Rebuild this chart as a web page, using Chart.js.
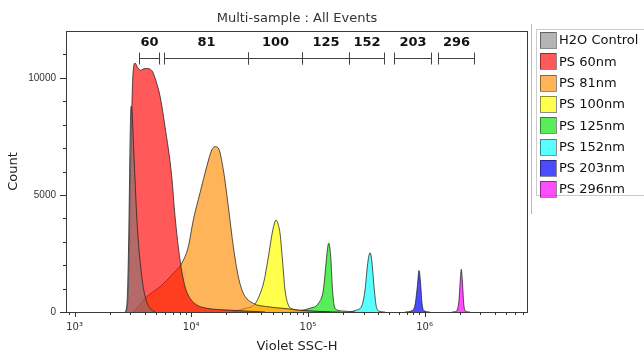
<!DOCTYPE html>
<html>
<head>
<meta charset="utf-8">
<script src="https://cdn.jsdelivr.net/npm/chart.js@4.4.1/dist/chart.umd.min.js"></script>
<style>
    html, body { margin: 0; padding: 0; background: #fff; }
    #area { width: 644px; height: 356px; }
</style>
</head>
<body>
<div id="area"><canvas id="histogramaChart" width="644" height="356"></canvas></div>
<script>
// ============================================
// HISTOGRAMA MULTI-AMOSTRA (Violet SSC-H x Count)
// ============================================

// Pontos [SSC-H, contagem] de cada amostra
const h2oControl = [[2710, 0], [2800, 230], [2890, 2220], [2950, 5090], [2990, 7220], [3050, 8780], [3090, 8700],
    [3240, 6500], [3450, 3650], [3770, 1510], [4100, 510], [4440, 160], [4900, 0]];
const ps60 = [[2760, 0], [2890, 810], [3030, 6500], [3150, 9910], [3300, 10630], [3470, 10450], [3690, 10320],
    [3890, 10380], [4140, 10400], [4440, 10370], [4680, 10250], [5060, 9770], [5400, 9230], [5960, 7920],
    [6810, 5780], [7270, 4070], [8020, 2220], [8850, 1080], [9770, 585], [11150, 300], [13580, 160],
    [20150, 85], [29900, 40], [42900, 0]];
const ps81 = [[3200, 0], [3500, 210], [4160, 650], [5400, 1080], [7020, 1650], [8290, 2080], [9440, 2790],
    [10420, 3930], [11900, 5090], [13580, 6210], [14990, 6920], [15990, 7060], [17070, 7000], [18840, 6070],
    [20800, 4500], [22950, 2790], [25330, 1510], [27960, 800], [34050, 370], [44360, 230], [63660, 150],
    [94400, 60], [154700, 0]];
const ps100 = [[22400, 0], [28900, 150], [35200, 340], [38860, 770], [42050, 1320], [45500, 2260], [49250, 3330],
    [51740, 3800], [53300, 3930], [55440, 3760], [57680, 3360], [60840, 2080], [63660, 940], [67950, 300],
    [74960, 115], [85600, 55], [127000, 20], [188400, 0]];
const ps125 = [[70250, 0], [104200, 160], [122800, 370], [135500, 940], [142100, 1940], [146700, 2650],
    [150800, 2940], [156800, 2360], [161900, 1080], [167400, 300], [178600, 85], [201100, 40], [253300, 0]];
const ps152 = [[229500, 0], [261900, 85], [289200, 260], [308600, 940], [322900, 1940], [331900, 2360],
    [340500, 2530], [352100, 2220], [368500, 1080], [383300, 300], [401100, 55], [457900, 0]];
const ps203 = [[679000, 0], [775500, 55], [827500, 300], [865900, 1080], [895400, 1770], [918900, 1370],
    [950200, 370], [988300, 55], [1112000, 0]];
const ps296 = [[1718000, 0], [1884000, 55], [1971000, 510], [2022000, 1370], [2063000, 1820], [2104000, 1370],
    [2163000, 370], [2233000, 40], [2449000, 0]];

const amostras = ['H2O Control', 'PS 60nm', 'PS 81nm', 'PS 100nm', 'PS 125nm', 'PS 152nm', 'PS 203nm', 'PS 296nm'];

// Gates de tamanho (nm) no topo do gráfico
const gateLabels = ['60', '81', '100', '125', '152', '203', '296'];
const gateInicio = [3570, 5850, 30700, 89000, 225000, 547000, 1302000];
const gateFim = [5300, 30700, 89000, 225000, 449000, 1134000, 2651000];

// Ticks dos eixos
const xTicksMaiores = [1e3, 1e4, 1e5, 1e6];
const xTickLabels = ['10³', '10⁴', '10⁵', '10⁶'];
const xTicksMenores = [900, 2000, 3000, 4000, 5000, 6000, 7000, 8000, 9000,
    20000, 30000, 40000, 50000, 60000, 70000, 80000, 90000,
    200000, 300000, 400000, 500000, 600000, 700000, 800000, 900000,
    2000000, 3000000, 4000000, 5000000, 6000000, 7000000];
const yTicksMaiores = [0, 5000, 10000];
const yTicksMenores = [1000, 2000, 3000, 4000, 6000, 7000, 8000, 9000, 11000];

// Cores (preenchimento semi-transparente)
const cores = [
    'rgba(120, 120, 120, 0.55)', // Cinza
    'rgba(255, 0, 0, 0.65)',     // Vermelho
    'rgba(255, 140, 0, 0.65)',   // Laranja
    'rgba(255, 255, 0, 0.7)',    // Amarelo
    'rgba(20, 230, 20, 0.7)',    // Verde
    'rgba(0, 255, 255, 0.65)',   // Ciano
    'rgba(0, 0, 255, 0.7)',      // Azul
    'rgba(255, 0, 255, 0.7)'     // Magenta
];

const series = [h2oControl, ps60, ps81, ps100, ps125, ps152, ps203, ps296];

// Moldura, ticks, gates, legenda e título
const decoracao = {
    id: 'decoracao',
    afterDraw(chart) {
        const { ctx, chartArea: a, scales: { x, y } } = chart;
        ctx.save();

        // Ticks do eixo Y
        ctx.strokeStyle = '#333';
        ctx.lineWidth = 1;
        ctx.beginPath();
        yTicksMaiores.concat(yTicksMenores).forEach(v => {
            const py = Math.round(y.getPixelForValue(v)) + 0.5;
            const len = yTicksMaiores.includes(v) ? 6 : 3;
            ctx.moveTo(a.left - len, py);
            ctx.lineTo(a.left, py);
        });
        // Ticks do eixo X
        xTicksMaiores.concat(xTicksMenores).forEach(v => {
            const px = Math.round(x.getPixelForValue(v)) + 0.5;
            if (px < a.left || px > a.right) return;
            const len = xTicksMaiores.includes(v) ? 5 : 3;
            ctx.moveTo(px, a.bottom);
            ctx.lineTo(px, a.bottom + len);
        });
        ctx.stroke();

        // Moldura da área do gráfico
        ctx.strokeStyle = '#3a3a3a';
        ctx.strokeRect(a.left + 0.5, a.top + 0.5, a.right - a.left - 1, a.bottom - a.top);

        // Gates
        const yBarra = a.top + 27.5;
        ctx.strokeStyle = '#444';
        ctx.fillStyle = '#111';
        ctx.font = 'bold 13px "DejaVu Sans"';
        ctx.textAlign = 'center';
        ctx.textBaseline = 'middle';
        gateLabels.forEach((label, i) => {
            const x1 = Math.round(x.getPixelForValue(gateInicio[i])) + 0.5;
            const x2 = Math.round(x.getPixelForValue(gateFim[i])) + 0.5;
            ctx.beginPath();
            ctx.moveTo(x1, yBarra);
            ctx.lineTo(x2, yBarra);
            ctx.moveTo(x1, yBarra - 6);
            ctx.lineTo(x1, yBarra + 6);
            ctx.moveTo(x2, yBarra - 6);
            ctx.lineTo(x2, yBarra + 6);
            ctx.stroke();
            ctx.fillText(label, (x1 + x2) / 2, a.top + 12);
        });

        // Título
        ctx.font = '13px "DejaVu Sans"';
        ctx.fillStyle = '#333';
        ctx.textBaseline = 'middle';
        ctx.fillText('Multi-sample : All Events', (a.left + a.right) / 2, 19);

        // Legenda
        ctx.strokeStyle = '#bbb';
        ctx.beginPath();
        ctx.moveTo(531.5, 24);
        ctx.lineTo(531.5, 214);
        ctx.stroke();
        ctx.strokeStyle = '#ccc';
        ctx.strokeRect(536.5, 29.5, 120, 166);

        ctx.textAlign = 'left';
        ctx.font = '13px "DejaVu Sans"';
        chart.data.datasets.forEach((ds, i) => {
            const cy = 40 + i * 21.3;
            ctx.fillStyle = ds.backgroundColor;
            ctx.fillRect(540, Math.round(cy - 8), 16, 16);
            ctx.strokeStyle = 'rgba(0, 0, 0, 0.45)';
            ctx.strokeRect(540.5, Math.round(cy - 8) + 0.5, 16, 16);
            ctx.fillStyle = '#111';
            ctx.fillText(ds.label, 559, cy + 1);
        });

        ctx.restore();
    }
};

const ctx = document.getElementById('histogramaChart').getContext('2d');

const histogramaChart = new Chart(ctx, {
    type: 'line',
    data: {
        datasets: series.map((dados, i) => ({
            label: amostras[i],
            data: dados,
            backgroundColor: cores[i],
            borderColor: 'rgba(30, 30, 30, 0.75)',
            borderWidth: 1,
            fill: 'origin',
            pointRadius: 0,
            cubicInterpolationMode: 'monotone'
        }))
    },
    options: {
        responsive: false,
        animation: false,
        devicePixelRatio: 1,
        layout: {
            padding: { left: 0, right: 116, top: 31, bottom: 0 }
        },
        plugins: {
            legend: { display: false },
            title: { display: false },
            tooltip: { enabled: false }
        },
        scales: {
            x: {
                type: 'logarithmic',
                min: 845,
                max: 7690000,
                afterBuildTicks: scale => {
                    scale.ticks = xTicksMaiores.map(v => ({ value: v }));
                },
                afterFit: scale => { scale.height = 44; },
                grid: { display: false, drawTicks: false },
                border: { display: false },
                ticks: {
                    autoSkip: false,
                    maxRotation: 0,
                    padding: 9,
                    color: '#333',
                    font: { family: '"DejaVu Sans"', size: 10 },
                    callback: function (value) {
                        const idx = xTicksMaiores.indexOf(value);
                        return idx >= 0 ? xTickLabels[idx] : '';
                    }
                },
                title: {
                    display: true,
                    text: 'Violet SSC-H',
                    color: '#222',
                    font: { family: '"DejaVu Sans"', size: 13 },
                    padding: { top: 2, bottom: 2 }
                }
            },
            y: {
                min: 0,
                max: 12000,
                afterBuildTicks: scale => {
                    scale.ticks = yTicksMaiores.map(v => ({ value: v }));
                },
                afterFit: scale => { scale.width = 66; },
                grid: { display: false, drawTicks: false },
                border: { display: false },
                ticks: {
                    padding: 10,
                    color: '#333',
                    font: { family: '"Liberation Sans"', size: 10 },
                    callback: function (value) {
                        return String(value);
                    }
                },
                title: {
                    display: true,
                    text: 'Count',
                    color: '#222',
                    font: { family: '"DejaVu Sans"', size: 13 },
                    padding: { top: 6, bottom: 0 }
                }
            }
        }
    },
    plugins: [decoracao]
});
</script>
</body>
</html>
